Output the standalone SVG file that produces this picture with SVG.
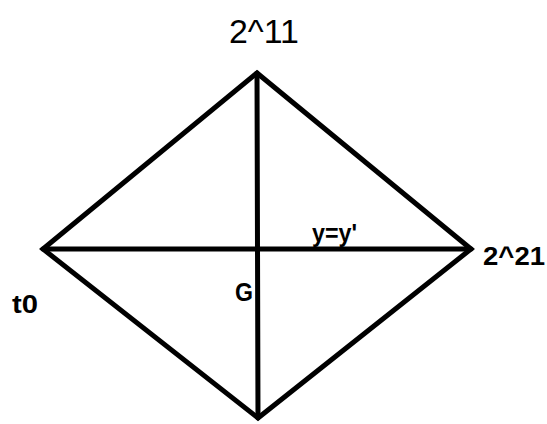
<svg xmlns="http://www.w3.org/2000/svg" width="547" height="424" viewBox="0 0 547 424">
<style>
.e{stroke:#000;stroke-width:5;fill:none;stroke-linecap:round;stroke-linejoin:miter}
.b{font-family:"Liberation Sans",Arial,sans-serif;font-weight:bold;font-size:26px;fill:#000}
.r{font-family:"Liberation Sans",Arial,sans-serif;font-size:33px;fill:#000}
</style>
<rect width="547" height="424" fill="#fff"/>
<g id="connectors">
<polygon class="e" points="257,73 471,249 258,418 43,249"/>
<line class="e" x1="43" y1="249" x2="471" y2="249"/>
<line class="e" x1="257" y1="73" x2="258" y2="418"/>
</g>
<g id="top"><text class="r" x="229" y="43" textLength="70" lengthAdjust="spacingAndGlyphs">2^11</text></g>
<g id="left"><text class="b" x="12" y="313" textLength="26" lengthAdjust="spacingAndGlyphs">t0</text></g>
<g id="center"><text class="b" x="235" y="301" textLength="18" lengthAdjust="spacingAndGlyphs">G</text></g>
<g id="mid"><text class="b" x="312" y="242" textLength="45" lengthAdjust="spacingAndGlyphs">y=y'</text></g>
<g id="right"><text class="b" x="483" y="265" textLength="62" lengthAdjust="spacingAndGlyphs">2^21</text></g>
</svg>
